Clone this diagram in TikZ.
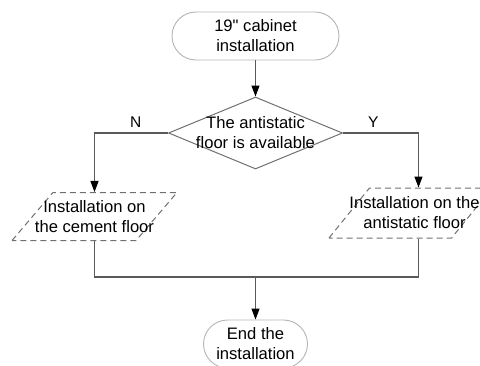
\documentclass[tikz,border=0pt]{standalone}
\usepackage{fontspec}
\setmainfont{Liberation Sans}
\newfontfamily\plainquote{Liberation Sans}[Ligatures=ResetAll]
\usetikzlibrary{shapes.geometric,arrows.meta}
\definecolor{linec}{HTML}{5A5A5A}
\definecolor{termc}{HTML}{B4B4B4}
\definecolor{boxc}{HTML}{707070}
\begin{document}
\begin{tikzpicture}[x=1pt,y=-1pt,
  txt/.style={font=\fontsize{16.6}{20}\selectfont, align=center},
  term/.style={txt, draw=termc, line width=0.9pt, rectangle, rounded corners=24pt, minimum height=48pt, inner sep=0pt},
  decide/.style={draw=boxc, line width=1pt, diamond, minimum width=174pt, minimum height=72pt, inner sep=0pt},
  io/.style={draw=boxc, line width=1pt, dash pattern=on 6pt off 4pt, trapezium, trapezium left angle=65, trapezium right angle=115, trapezium stretches=true, minimum width=165pt, minimum height=48pt, inner sep=0pt},
  conn/.style={draw=linec, line width=1.1pt},
  arr/.style={conn, -{Triangle[length=11pt,width=8pt,fill=black,color=black]}},
  yn/.style={font=\fontsize{15.5}{18}\selectfont}]
\useasboundingbox (0,0) rectangle (480,365);
\node[term, minimum width=167pt] (t) at (255.5,36) {19{\plainquote"} cabinet\\installation};
\node[decide, label={[txt]center:The antistatic\\floor is available}] (d) at (255.5,133) {};
\node[io, label={[txt]center:Installation on\\the cement floor}] (l) at (94.5,216.5) {\phantom{x}};
\node[io, minimum width=163pt, minimum height=50pt, label={[txt,xshift=4pt]center:Installation on the\\antistatic floor}] (r) at (410.5,213) {\phantom{x}};
\node[term, minimum width=104pt] (e) at (255.5,344) {End the\\installation};
\coordinate (rin) at ([xshift=8pt]r.north);
\coordinate (rout) at ([xshift=8pt]r.south);
\coordinate (j) at (255.5,277);
\draw[arr] (t.south) -- (d.north);
\draw[arr] (d.west) -| (l.north) node[yn, pos=0.22, above=2pt] (n) {N};
\draw[arr] (d.east) -| (rin) node[yn, pos=0.2, above=2pt] (y) {Y};
\draw[conn] (l.south) |- (j);
\draw[conn] (rout) |- (j);
\draw[arr] (j) -- (e.north);
\end{tikzpicture}
\end{document}
